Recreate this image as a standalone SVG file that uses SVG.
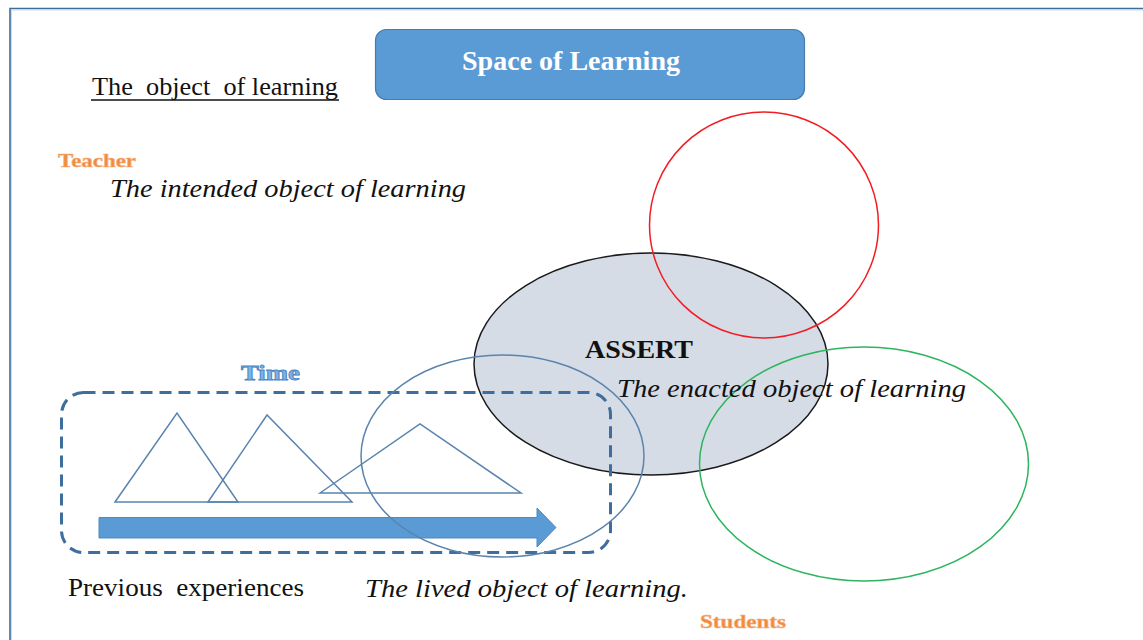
<svg xmlns="http://www.w3.org/2000/svg" width="1143" height="640" viewBox="0 0 1143 640" xml:space="preserve">
  <defs>
    <style>
      .serif { font-family: "Liberation Serif", "Times New Roman", serif; white-space: pre; }
      .body { font-size: 25px; fill: #111; }
      .ital { font-style: italic; }
      .role { font-weight: bold; fill: #F08A3E; stroke: #F6B07A; stroke-width: 0.6; }
      .thin-blue { fill: none; stroke: #5A84AE; stroke-width: 1.5; }
    </style>
  </defs>

  <!-- page background and frame -->
  <rect x="0" y="0" width="1143" height="640" fill="#ffffff"/>
  <path d="M10,640 V8.5 H1143" fill="none" stroke="#3F6D9C" stroke-width="1.6"/>
  <path d="M11.5,640 V10 H1143" fill="none" stroke="#BBD0E4" stroke-width="0.8"/>

  <!-- title box -->
  <g id="space-of-learning">
    <rect x="375.5" y="29.5" width="429" height="70" rx="11" fill="#5B9BD5" stroke="#4A7BAE" stroke-width="1.2"/>
    <text x="462" y="70" class="serif" font-size="27" font-weight="bold" fill="#ffffff" textLength="218" lengthAdjust="spacingAndGlyphs">Space of Learning</text>
  </g>

  <g id="object-heading">
    <text x="92" y="95" class="serif body" textLength="246" lengthAdjust="spacingAndGlyphs">The  object  of learning</text>
    <line x1="91" y1="100" x2="339" y2="100" stroke="#111" stroke-width="1.5"/>
  </g>

  <!-- enacted object: shaded ellipse underneath the outlines -->
  <g id="assert">
    <ellipse cx="651" cy="364" rx="177" ry="111" fill="#D5DCE6" stroke="#1A1A1A" stroke-width="1.5"/>
    <text x="585" y="358" class="serif" font-size="26" font-weight="bold" fill="#111" textLength="108" lengthAdjust="spacingAndGlyphs">ASSERT</text>
  </g>

  <g id="teacher">
    <text x="58" y="167" class="serif role" font-size="19" textLength="78" lengthAdjust="spacingAndGlyphs">Teacher</text>
    <text x="110" y="197" class="serif body ital" textLength="356" lengthAdjust="spacingAndGlyphs">The intended object of learning</text>
  </g>

  <!-- teacher circle -->
  <g id="intended-circle">
    <ellipse cx="764" cy="225" rx="114.5" ry="113" fill="none" stroke="#F21D24" stroke-width="1.5"/>
  </g>

  <!-- student circle -->
  <g id="lived-circle-students">
    <ellipse cx="864" cy="464" rx="164.5" ry="117" fill="none" stroke="#2DB55D" stroke-width="1.5"/>
  </g>

  <!-- time box -->
  <g id="time">
    <text x="241" y="380" class="serif" font-size="21" font-weight="bold" fill="#7FB2E2" stroke="#4A86C5" stroke-width="0.8" textLength="59" lengthAdjust="spacingAndGlyphs">Time</text>
    <rect x="61.5" y="392.5" width="549" height="160" rx="22" fill="none" stroke="#3E6E9E" stroke-width="3" stroke-dasharray="12 7"/>
    <polygon points="115,502 177,413 238,502" class="thin-blue"/>
    <polygon points="208,502 267,415 352,502" class="thin-blue"/>
    <polygon points="320,493 420,424 521,493" class="thin-blue"/>
    <path d="M99,517.5 H537 V508 L556,527.5 L537,547 V538 H99 Z" fill="#5B9BD5" stroke="#4F89C2" stroke-width="1"/>
  </g>

  <!-- lived object circle -->
  <g id="lived-circle">
    <ellipse cx="502.5" cy="456" rx="141.5" ry="101" fill="none" stroke="#5A84AE" stroke-width="1.5"/>
  </g>

  <g id="enacted-label">
    <text x="617" y="397" class="serif body ital" textLength="349" lengthAdjust="spacingAndGlyphs">The enacted object of learning</text>
  </g>

  <g id="previous">
    <text x="68" y="596" class="serif body" textLength="236" lengthAdjust="spacingAndGlyphs">Previous  experiences</text>
  </g>

  <g id="lived-label">
    <text x="365" y="597" class="serif body ital" textLength="323" lengthAdjust="spacingAndGlyphs">The lived object of learning.</text>
  </g>

  <g id="students">
    <text x="700" y="628" class="serif role" font-size="19" textLength="86" lengthAdjust="spacingAndGlyphs">Students</text>
  </g>
</svg>
